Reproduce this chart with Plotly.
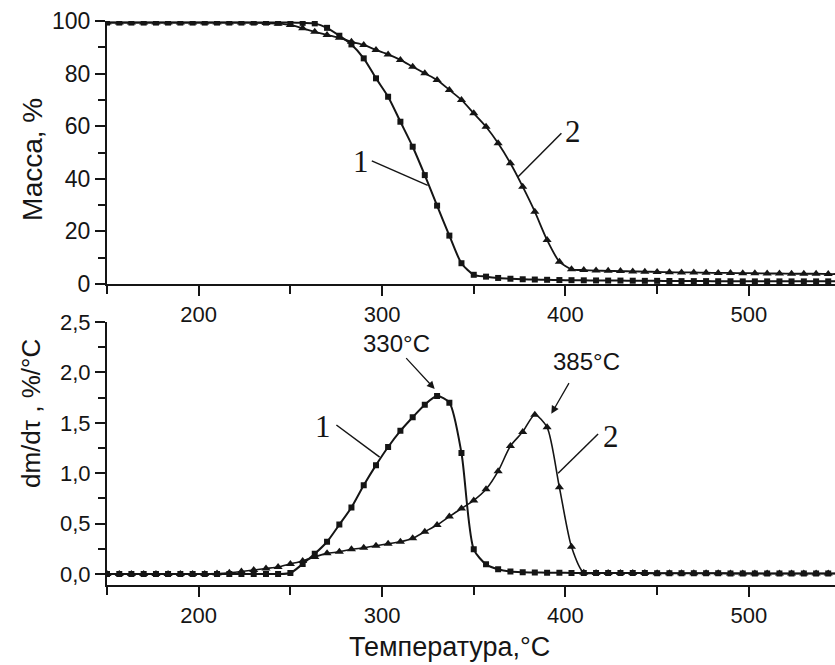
import plotly.graph_objects as go

# Temperature grid (°C)
temperature = [150.0, 156.7, 163.3, 170.0, 176.7, 183.3, 190.0, 196.7, 203.3, 210.0,
               216.7, 223.3, 230.0, 236.7, 243.3, 250.0, 256.7, 263.3, 270.0, 276.7,
               283.3, 290.0, 296.7, 303.3, 310.0, 316.7, 323.3, 330.0, 336.7, 343.3,
               350.0, 356.7, 363.3, 370.0, 376.7, 383.3, 390.0, 396.7, 403.3, 410.0,
               416.7, 423.3, 430.0, 436.7, 443.3, 450.0, 456.7, 463.3, 470.0, 476.7,
               483.3, 490.0, 496.7, 503.3, 510.0, 516.7, 523.3, 530.0, 536.7, 543.3,
               550.0]

# Mass, % (top panel)
mass_1 = [99.4, 99.4, 99.4, 99.4, 99.4, 99.4, 99.4, 99.4, 99.4, 99.4,
          99.4, 99.4, 99.4, 99.4, 99.4, 99.4, 99.3, 99.1, 97.4, 94.4,
          91.1, 85.8, 78.2, 71.2, 61.7, 52.2, 41.4, 29.8, 18.4, 7.9,
          3.5, 2.8, 2.3, 2.0, 1.8, 1.7, 1.6, 1.5, 1.45, 1.4,
          1.35, 1.3, 1.3, 1.25, 1.2, 1.2, 1.15, 1.1, 1.1, 1.1,
          1.05, 1.05, 1.0, 1.0, 1.0, 1.0, 1.0, 1.0, 1.0, 1.0,
          1.0]
mass_2 = [99.4, 99.4, 99.4, 99.4, 99.4, 99.4, 99.4, 99.4, 99.4, 99.4,
          99.4, 99.4, 99.3, 99.2, 99.0, 98.5, 97.2, 95.9, 94.7, 93.6,
          92.1, 90.9, 89.0, 87.3, 85.2, 82.6, 80.1, 77.6, 73.8, 70.0,
          64.9, 59.8, 53.5, 45.9, 37.0, 27.5, 16.7, 8.5, 5.6, 5.3,
          5.1, 5.0, 4.9, 4.8, 4.7, 4.6, 4.5, 4.4, 4.4, 4.3,
          4.2, 4.2, 4.1, 4.1, 4.0, 4.0, 3.9, 3.9, 3.9, 3.8,
          3.8]

# dm/dτ, %/°C (bottom panel)
dtg_1 = [0.0, 0.0, 0.0, 0.0, 0.0, 0.0, 0.0, 0.0, 0.0, 0.0,
         0.0, 0.0, 0.0, 0.0, 0.0, 0.01, 0.1, 0.2, 0.32, 0.49,
         0.66, 0.88, 1.08, 1.26, 1.42, 1.555, 1.68, 1.765, 1.70, 1.20,
         0.245, 0.096, 0.047, 0.025, 0.018, 0.015, 0.013, 0.012, 0.011, 0.01,
         0.01, 0.01, 0.01, 0.009, 0.009, 0.008, 0.008, 0.008, 0.007, 0.007,
         0.007, 0.006, 0.006, 0.006, 0.005, 0.005, 0.005, 0.005, 0.005, 0.005,
         0.005]
dtg_2 = [0.0, 0.0, 0.0, 0.0, 0.0, 0.0, 0.0, 0.0, 0.0, 0.005,
         0.013, 0.025, 0.04, 0.055, 0.07, 0.1, 0.13, 0.17, 0.205, 0.22,
         0.245, 0.26, 0.28, 0.30, 0.32, 0.355, 0.42, 0.486, 0.57, 0.65,
         0.73, 0.84, 1.02, 1.27, 1.41, 1.58, 1.455, 0.86, 0.27, 0.012,
         0.01, 0.01, 0.01, 0.009, 0.009, 0.008, 0.008, 0.008, 0.007, 0.007,
         0.007, 0.006, 0.006, 0.006, 0.005, 0.005, 0.005, 0.005, 0.005, 0.005,
         0.005]

peak_labels = ["330°C", "385°C"]
x_ticks = [200, 300, 400, 500]

W, H = 835, 665
INK = "#151515"
SANS = "Liberation Sans, Arial, sans-serif"
SERIF = "Liberation Serif, Times New Roman, serif"


def px_x(p):
    return p / W


def px_y(p):
    return 1 - p / H


fig = go.Figure()

line_kw = dict(color=INK, width=2, shape="spline", smoothing=0.7)
fig.add_trace(go.Scatter(x=temperature, y=mass_1, mode="lines+markers",
                         line=line_kw, marker=dict(symbol="square", size=6, color=INK),
                         xaxis="x", yaxis="y", showlegend=False))
fig.add_trace(go.Scatter(x=temperature, y=mass_2, mode="lines+markers",
                         line=dict(line_kw, width=1.8), marker=dict(symbol="triangle-up", size=8, color=INK),
                         xaxis="x", yaxis="y", showlegend=False))
fig.add_trace(go.Scatter(x=temperature, y=dtg_1, mode="lines+markers",
                         line=line_kw, marker=dict(symbol="square", size=6, color=INK),
                         xaxis="x2", yaxis="y2", showlegend=False))
fig.add_trace(go.Scatter(x=temperature, y=dtg_2, mode="lines+markers",
                         line=dict(line_kw, width=1.6), marker=dict(symbol="triangle-up", size=8, color=INK),
                         xaxis="x2", yaxis="y2", showlegend=False))

x_dom = [107 / W, 1.0]
top_dom = [1 - 284 / H, 1 - 21 / H]
bot_dom = [1 - 584.7 / H, 1 - 322 / H]

common_x = dict(range=[150, 547], domain=x_dom, tickvals=x_ticks, ticks="outside", ticklen=10,
                tickwidth=2, tickcolor=INK, showline=True, linewidth=2, linecolor=INK,
                showgrid=False, zeroline=False, tickfont=dict(family=SANS, size=22, color=INK),
                minor=dict(ticks="outside", ticklen=8, tickwidth=2, tickcolor=INK, dtick=50, tick0=0,
                           showgrid=False),
                automargin=False)
common_y = dict(ticks="outside", ticklen=10, tickwidth=2, tickcolor=INK, showline=True, linewidth=2,
                linecolor=INK, showgrid=False, zeroline=False, automargin=False)

fig.update_layout(
    width=W, height=H,
    margin=dict(l=0, r=0, t=0, b=0),
    paper_bgcolor="white", plot_bgcolor="white",
    separators=", ",
    xaxis=dict(common_x, anchor="y"),
    xaxis2=dict(common_x, anchor="y2"),
    yaxis=dict(common_y, domain=top_dom, anchor="x", range=[0, 100], dtick=20, tick0=0,
               tickfont=dict(family=SANS, size=23, color=INK),
               minor=dict(ticks="outside", ticklen=7, tickwidth=2, tickcolor=INK, dtick=10, showgrid=False)),
    yaxis2=dict(common_y, domain=bot_dom, anchor="x2", range=[-0.106, 2.5], dtick=0.5, tick0=0,
                tickformat=".1f", tickfont=dict(family=SANS, size=22, color=INK),
                minor=dict(ticks="outside", ticklen=7, tickwidth=2, tickcolor=INK, dtick=0.25, tick0=0,
                           showgrid=False)),
)

ann = []
C = dict(xanchor="center", yanchor="middle")
# Axis titles
ann.append(dict(text="Масса, %", x=px_x(32), y=px_y(160), xref="paper", yref="paper", textangle=-90,
                showarrow=False, font=dict(family=SANS, size=28, color=INK), **C))
ann.append(dict(text="dm/dτ , %/°C", x=px_x(31), y=px_y(414), xref="paper", yref="paper", textangle=-90,
                showarrow=False, font=dict(family=SANS, size=26, color=INK), **C))
ann.append(dict(text="Температура,°C", x=px_x(449), y=px_y(647), xref="paper", yref="paper",
                showarrow=False, font=dict(family=SANS, size=27, color=INK), **C))

# Curve number labels
for txt, xx, yy, xr, yr in [("1", 288.7, 46.4, "x", "y"), ("2", 404.2, 57.9, "x", "y"),
                            ("1", 267.8, 1.46, "x2", "y2"), ("2", 424.6, 1.362, "x2", "y2")]:
    ann.append(dict(text=txt, x=xx, y=yy, xref=xr, yref=yr, showarrow=False,
                    font=dict(family=SERIF, size=31, color=INK), **C))

# Peak labels with arrows
i1 = dtg_1.index(max(dtg_1))
i2 = dtg_2.index(max(dtg_2))
ann.append(dict(text=peak_labels[0], x=308, y=2.29, xref="x2", yref="y2", showarrow=False,
                font=dict(family=SANS, size=24, color=INK), **C))
ann.append(dict(text=peak_labels[1], x=411.5, y=2.106, xref="x2", yref="y2", showarrow=False,
                font=dict(family=SANS, size=24, color=INK), **C))
ann.append(dict(text="", x=temperature[i1] - 1.3, y=dtg_1[i1] + 0.07, xref="x2", yref="y2",
                ax=312.4, ay=2.156, axref="x2", ayref="y2", showarrow=True,
                arrowhead=2, arrowsize=1.2, arrowwidth=1.3, arrowcolor=INK))
ann.append(dict(text="", x=temperature[i2] + 9, y=dtg_2[i2] + 0.01, xref="x2", yref="y2",
                ax=402.4, ay=1.908, axref="x2", ayref="y2", showarrow=True,
                arrowhead=2, arrowsize=1.2, arrowwidth=1.3, arrowcolor=INK))

fig.update_layout(annotations=ann)

# Leader lines
leaders = [
    ("x", "y", 294.4, 46.8, 324.9, 37.5),
    ("x", "y", 397.8, 57.3, 374.2, 40.8),
    ("x2", "y2", 275.1, 1.478, 298.7, 1.16),
    ("x2", "y2", 417.8, 1.389, 396.0, 1.0),
]
for xr, yr, x0, y0, x1, y1 in leaders:
    fig.add_shape(type="line", xref=xr, yref=yr, x0=x0, y0=y0, x1=x1, y1=y1,
                  line=dict(color=INK, width=1.5))

fig.write_html("out.html")
